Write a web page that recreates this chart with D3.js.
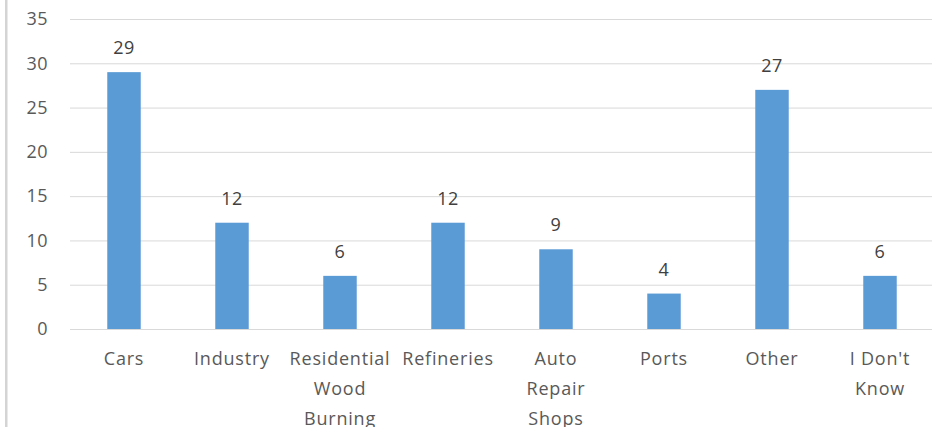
<!DOCTYPE html>
<html><head><meta charset="utf-8">
<script src="https://cdn.jsdelivr.net/npm/d3@7"></script>
<style>body{margin:0;background:#fff;overflow:hidden}svg{display:block}</style>
</head><body>
<script>
const categories = ["Cars","Industry","Residential Wood Burning","Refineries","Auto Repair Shops","Ports","Other","I Don't Know"];
const categoryLines = [["Cars"],["Industry"],["Residential","Wood","Burning"],["Refineries"],["Auto","Repair","Shops"],["Ports"],["Other"],["I Don't","Know"]];
const values = [29,12,6,12,9,4,27,6];
const yTicks = [0,5,10,15,20,25,30,35];

const W = 932, H = 427;
const svg = d3.select("body").append("svg").attr("width", W).attr("height", H);
const font = "'Open Sans', 'Liberation Sans', sans-serif";

svg.append("rect").attr("x",5).attr("y",0).attr("width",2.5).attr("height",H).attr("fill","#d4d4d4");

const x = d3.scaleBand().domain(categories).range([70, 934]).paddingInner(0.69).paddingOuter(0.345);
const y = d3.scaleLinear().domain([0,35]).range([329, 19]);

const gy = svg.append("g").attr("transform","translate(70,0)")
  .call(d3.axisLeft(y).tickValues(yTicks).tickSize(-(W-70)).tickPadding(22));
gy.select(".domain").remove();
gy.selectAll(".tick line").attr("stroke","#d9d9d9").attr("stroke-width",1);
gy.selectAll(".tick text").attr("fill","#595959").style("font-family",font).style("font-size","18px").style("letter-spacing","0.5px");

svg.selectAll("rect.bar").data(values).enter().append("rect").attr("class","bar")
  .attr("x",(d,i)=>x(categories[i])).attr("width",x.bandwidth())
  .attr("y",d=>y(d)).attr("height",d=>y(0)-y(d)).attr("fill","#5b9bd5");

svg.selectAll("text.val").data(values).enter().append("text").attr("class","val")
  .attr("x",(d,i)=>x(categories[i])+x.bandwidth()/2).attr("y",d=>y(d)-18)
  .attr("text-anchor","middle").attr("fill","#404040")
  .style("font-family",font).style("font-size","18px").style("letter-spacing","0.5px").text(d=>d);

const gx = svg.append("g");
categories.forEach((c,i)=>{
  const t = gx.append("text").attr("x",x(c)+x.bandwidth()/2).attr("y",365)
    .attr("text-anchor","middle").attr("fill","#595959")
    .style("font-family",font).style("font-size","18px").style("letter-spacing","0.8px");
  categoryLines[i].forEach((l,j)=>t.append("tspan").attr("x",x(c)+x.bandwidth()/2).attr("dy",j?30:0).text(l));
});
</script>
</body></html>
